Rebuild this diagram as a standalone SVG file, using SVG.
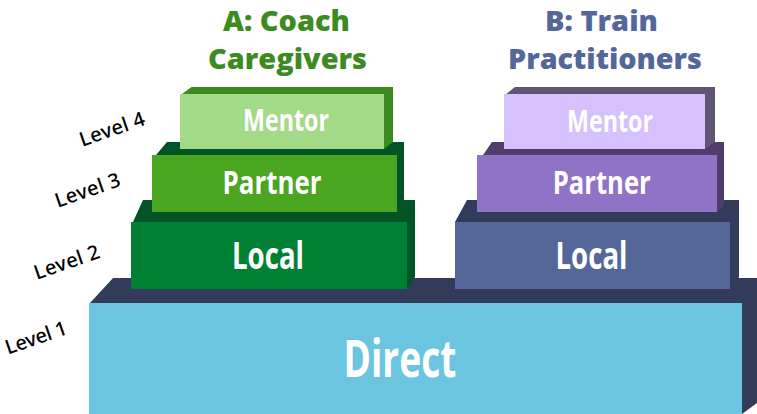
<svg xmlns="http://www.w3.org/2000/svg" width="757" height="414" viewBox="0 0 757 414">
  <style>
    .title { font-family: "Open Sans", "Liberation Sans", sans-serif; font-weight: 800; font-size: 28px; text-anchor: middle; }
    .tA { fill: #3d8b1f; }
    .tB { fill: #53679a; }
    .lbl { font-family: "Open Sans", "Liberation Sans", sans-serif; font-weight: 700; fill: #ffffff; text-anchor: middle; }
    .lvl { font-family: "Noto Sans", "Liberation Sans", sans-serif; font-weight: 500; font-size: 20px; fill: #000000; text-anchor: middle; }
  </style>

  <!-- Titles -->
  <g id="title-a">
    <text class="title tA" x="286.5" y="30.5" textLength="127" lengthAdjust="spacingAndGlyphs">A: Coach</text>
    <text class="title tA" x="287.5" y="69" textLength="159" lengthAdjust="spacingAndGlyphs">Caregivers</text>
  </g>
  <g id="title-b">
    <text class="title tB" x="601.5" y="31" textLength="113" lengthAdjust="spacingAndGlyphs">B: Train</text>
    <text class="title tB" x="605" y="69" textLength="194" lengthAdjust="spacingAndGlyphs">Practitioners</text>
  </g>

  <!-- Level 1 base -->
  <g id="direct">
    <polygon points="90,303 113,278 757,278 757,403 742,414 742,303" fill="#323c5a"/>
    <rect x="89" y="303" width="653" height="111" fill="#6bc5e0"/>
    <text class="lbl" x="400" y="377" font-size="52" textLength="113" lengthAdjust="spacingAndGlyphs">Direct</text>
  </g>

  <!-- Column A -->
  <g id="a-local">
    <polygon points="133,222 143,200 415,200 415,277 407,289 407,222" fill="#005426"/>
    <rect x="131" y="222" width="276" height="67" fill="#008035"/>
    <text class="lbl" x="268" y="269" font-size="38" textLength="72" lengthAdjust="spacingAndGlyphs">Local</text>
  </g>
  <g id="a-partner">
    <polygon points="156,155 167,142 404,142 404,205 397,212 397,155" fill="#005426"/>
    <rect x="152" y="155" width="245" height="57" fill="#4aa521"/>
    <text class="lbl" x="272" y="194" font-size="33" textLength="99" lengthAdjust="spacingAndGlyphs">Partner</text>
  </g>
  <g id="a-mentor">
    <polygon points="182,94 191.5,87 393,87 393,142 384,149 384,94" fill="#3b8a1f"/>
    <rect x="180" y="94" width="204" height="55" fill="#a3da87"/>
    <text class="lbl" x="286" y="131" font-size="30" textLength="86" lengthAdjust="spacingAndGlyphs">Mentor</text>
  </g>

  <!-- Column B -->
  <g id="b-local">
    <polygon points="455,222 467,200 739,200 739,277 730,289 730,222" fill="#323c5a"/>
    <rect x="455" y="222" width="275" height="67" fill="#546798"/>
    <text class="lbl" x="591.5" y="269" font-size="38" textLength="72" lengthAdjust="spacingAndGlyphs">Local</text>
  </g>
  <g id="b-partner">
    <polygon points="483,155 492,142 724,142 724,205 717,212 717,155" fill="#4f3d6c"/>
    <rect x="477" y="155" width="240" height="57" fill="#8f73c7"/>
    <text class="lbl" x="601.7" y="194" font-size="33" textLength="98" lengthAdjust="spacingAndGlyphs">Partner</text>
  </g>
  <g id="b-mentor">
    <polygon points="506,94 515,87 715,87 715,142 705,149 705,94" fill="#625574"/>
    <rect x="504" y="94" width="201" height="55" fill="#d4c1fd"/>
    <text class="lbl" x="610" y="131.5" font-size="30" textLength="86" lengthAdjust="spacingAndGlyphs">Mentor</text>
  </g>

  <!-- Level labels -->
  <g id="levels">
    <text class="lvl" transform="translate(112,129) rotate(-19)" x="0" y="7" textLength="68">Level 4</text>
    <text class="lvl" transform="translate(87.5,190) rotate(-19)" x="0" y="7" textLength="68">Level 3</text>
    <text class="lvl" transform="translate(66.7,262) rotate(-19)" x="0" y="7" textLength="68">Level 2</text>
    <text class="lvl" transform="translate(36,337.5) rotate(-19)" x="0" y="7" textLength="64">Level 1</text>
  </g>

  <g id="connectors"/>
</svg>
